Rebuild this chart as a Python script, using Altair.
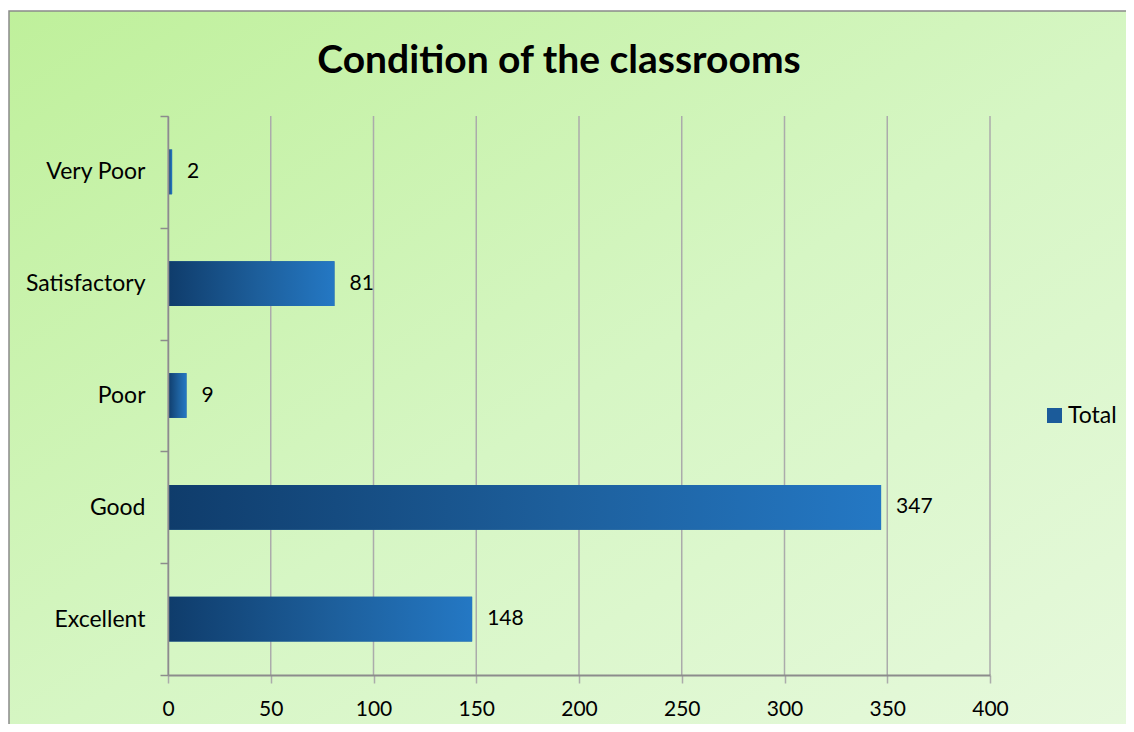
import altair as alt
import pandas as pd

categories = ["Very Poor", "Satisfactory", "Poor", "Good", "Excellent"]
values = [2, 81, 9, 347, 148]
series = ["Total"] * 5
x_ticks = [0, 50, 100, 150, 200, 250, 300, 350, 400]
title_text = ["Condition of the classrooms"]

df = pd.DataFrame({"cond": categories, "val": values, "series": series})
grid_df = pd.DataFrame({"tick": x_ticks})
bg = pd.DataFrame({"k": [0]})
title_df = pd.DataFrame({"t": title_text})

W, H = 822, 559
FONT = "Lato"

bar_grad = alt.LinearGradient(
    gradient="linear", x1=0, y1=0, x2=1, y2=0,
    stops=[alt.GradientStop(color="#0f3c6b", offset=0),
           alt.GradientStop(color="#1d5f9c", offset=0.55),
           alt.GradientStop(color="#2478c4", offset=1)],
)
bg_grad = alt.LinearGradient(
    gradient="linear", x1=0, y1=0, x2=1, y2=1,
    stops=[alt.GradientStop(color="#bff09b", offset=0),
           alt.GradientStop(color="#d6f6c4", offset=0.5),
           alt.GradientStop(color="#e8f9df", offset=1)],
)

background = alt.Chart(bg).mark_rect(
    fill=bg_grad, stroke="#8a8a8a", strokeWidth=1.5
).encode(
    x=alt.value(-159), x2=alt.value(W + 200),
    y=alt.value(-105), y2=alt.value(H + 80),
)

x_scale = alt.Scale(domain=[0, 400], nice=False)
y_scale = alt.Scale(paddingInner=0, paddingOuter=0)

grid = alt.Chart(grid_df).mark_rule(color="#ababab", strokeWidth=1.5).encode(
    x=alt.X("tick:Q", scale=x_scale), y=alt.value(0), y2=alt.value(H)
)

y_enc = alt.Y("cond:N", sort=categories, scale=y_scale,
              axis=alt.Axis(title=None, tickBand="extent", tickSize=8,
                            tickColor="#8c8c8c", domainColor="#8c8c8c",
                            domainWidth=1.5, tickWidth=1.5, labelPadding=15,
                            labelFontSize=23, labelFont=FONT,
                            labelColor="#000000", grid=False, zindex=1))
x_enc = alt.X("val:Q", scale=x_scale,
              axis=alt.Axis(title=None, values=x_ticks, tickSize=8,
                            tickColor="#ababab", domainColor="#8c8c8c",
                            domainWidth=2, tickWidth=1.5, labelPadding=15,
                            labelFontSize=21, labelFont=FONT, labelFlush=False,
                            labelColor="#000000", grid=False, zindex=1))

bar_h = alt.RelativeBandSize(band=0.4)

bars_legend = alt.Chart(df).mark_bar(height=bar_h).encode(
    x=x_enc, y=y_enc,
    color=alt.Color("series:N", scale=alt.Scale(range=["#1b5b9a"]),
                    legend=alt.Legend(title=None, orient="none", legendX=875,
                                      legendY=288, symbolType="square",
                                      symbolSize=225, symbolStrokeWidth=0,
                                      labelFontSize=23, labelFont=FONT,
                                      labelColor="#000000", labelOffset=2)),
)
bars = alt.Chart(df).mark_bar(fill=bar_grad, height=bar_h).encode(
    x="val:Q", y=alt.Y("cond:N", sort=categories))
labels = alt.Chart(df).mark_text(
    align="left", dx=15, fontSize=21, font=FONT, color="#000000"
).encode(x="val:Q", y=alt.Y("cond:N", sort=categories), text="val:Q")

title = alt.Chart(title_df).mark_text(
    font=FONT, fontSize=39, fontWeight="bold", color="#000000",
    align="center", baseline="alphabetic"
).encode(x=alt.value(391), y=alt.value(-43), text="t:N")

chart = alt.layer(background, grid, bars_legend, bars, labels, title).properties(
    width=W, height=H,
    autosize=alt.AutoSizeParams(type="none"),
    padding={"left": 160, "top": 108, "right": 136, "bottom": 49},
).configure_view(stroke=None)

chart.save("out.html", embed_options={"renderer": "svg", "actions": False})
